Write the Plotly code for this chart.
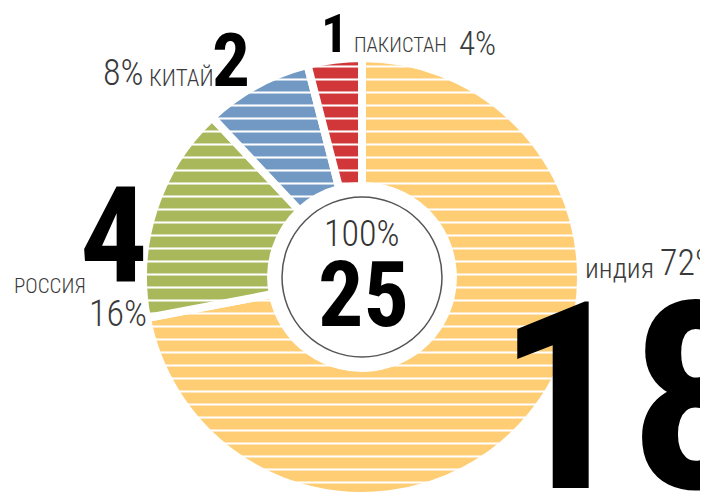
import plotly.graph_objects as go

# ---- data ----
countries = ["ИНДИЯ", "РОССИЯ", "КИТАЙ", "ПАКИСТАН"]
values = [18, 4, 2, 1]
shares = ["72%", "16%", "8%", "4%"]
total = 25
total_share = "100%"
colors = ["#FECD74", "#A9B85B", "#7199C4", "#D13738"]

# page body has an 8px margin: figure is sized to fill the rest of the 708x499 window
OFF = 8
W, H = 708 - OFF, 499 - OFF

def px(x):
    return (x - OFF) / W

def py(y):
    return 1 - (y - OFF) / H

# pie geometry (window pixels)
cx, cy, R = 362, 277, 219
fig = go.Figure(go.Pie(
    labels=countries, values=values, sort=False, direction="clockwise", rotation=0,
    hole=0.415, textinfo="none", hoverinfo="label+value+percent",
    marker=dict(colors=colors, line=dict(color="white", width=8),
                pattern=dict(shape="-", fgcolor="white", bgcolor=colors,
                             size=13, solidity=0.16, fillmode="replace")),
    domain=dict(x=[px(cx - R), px(cx + R)], y=[py(cy + R), py(cy - R)]),
    showlegend=False,
))

# center circle
rc = 80
fig.add_shape(type="circle", xref="paper", yref="paper",
              x0=px(cx - rc), x1=px(cx + rc), y0=py(cy + rc), y1=py(cy - rc),
              fillcolor="white", line=dict(color="#555555", width=1.5))

FONT = "Roboto Condensed, Open Sans Condensed, DejaVu Sans Condensed, sans-serif"

def ann(text, x, y, size, color="#000000", weight="normal", xanchor="center"):
    fig.add_annotation(text=text, x=px(x), y=py(y), xref="paper", yref="paper",
                       xanchor=xanchor, yanchor="middle", showarrow=False,
                       font=dict(family=FONT, size=size, color=color, weight=weight))

GREY = "#3a3a3a"

# center
ann(total_share, 362, 234, 36, "#333333", 300)
ann(str(total), 363, 295, 90, "#000000", "bold")

# India
ann(str(values[0]), 495, 398, 262, "#000000", "bold", xanchor="left")
ann(countries[0].lower(), 619, 268, 28, GREY, 300)
ann(shares[0], 658, 263, 36, GREY, 300, xanchor="left")

# Russia
ann(str(values[1]), 114, 237, 134, "#000000", "bold")
ann(countries[1], 50, 286, 21, GREY, 300)
ann(shares[1], 118, 314, 36, GREY, 300)

# China
ann(str(values[2]), 231, 60, 75, "#000000", "bold")
ann(countries[2], 181, 78, 23, GREY, 300)
ann(shares[2], 123, 73, 36, GREY, 300)

# Pakistan
ann(str(values[3]), 334, 33, 54, "#000000", "bold")
ann(countries[3], 400, 45, 20.5, GREY, 300)
ann(shares[3], 478, 43, 33, GREY, 300)

fig.update_layout(width=W, height=H, margin=dict(l=0, r=0, t=0, b=0),
                  paper_bgcolor="white", plot_bgcolor="white")
fig.write_html("out.html")
